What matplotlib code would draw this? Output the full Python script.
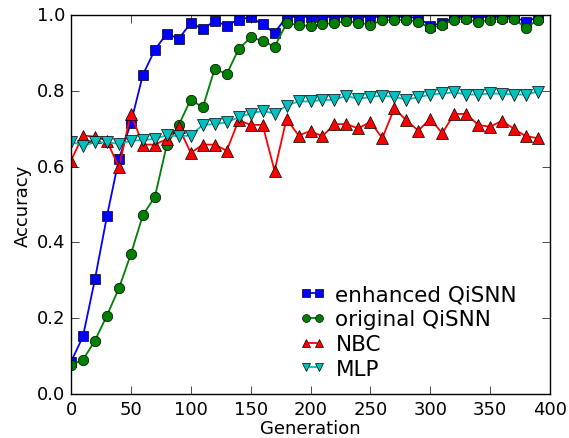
import matplotlib
matplotlib.use("Agg")
import matplotlib.pyplot as plt
import numpy as np

plt.style.use("classic")
plt.rcParams['font.family'] = ['DejaVu Sans']

generations = list(range(0, 400, 10))

enhanced_qisnn = [0.085, 0.152, 0.303, 0.469, 0.620, 0.715, 0.842, 0.908, 0.951, 0.937,
                  0.979, 0.963, 0.984, 0.972, 0.988, 0.994, 0.975, 0.953, 0.995, 0.995,
                  0.995, 0.995, 0.995, 0.995, 0.995, 0.995, 0.995, 0.995, 0.995, 0.992,
                  0.972, 0.978, 0.995, 0.995, 0.995, 0.995, 0.995, 0.995, 0.982, 0.995]

original_qisnn = [0.077, 0.090, 0.141, 0.207, 0.279, 0.369, 0.472, 0.520, 0.657, 0.710,
                  0.777, 0.756, 0.858, 0.844, 0.910, 0.941, 0.932, 0.916, 0.978, 0.974,
                  0.970, 0.975, 0.980, 0.983, 0.980, 0.974, 0.986, 0.986, 0.988, 0.982,
                  0.965, 0.974, 0.988, 0.990, 0.981, 0.988, 0.990, 0.990, 0.965, 0.988]

nbc = [0.616, 0.682, 0.679, 0.668, 0.598, 0.740, 0.658, 0.658, 0.673, 0.704,
       0.636, 0.658, 0.658, 0.642, 0.722, 0.710, 0.710, 0.589, 0.726, 0.682,
       0.694, 0.680, 0.712, 0.712, 0.701, 0.718, 0.675, 0.754, 0.722, 0.695,
       0.726, 0.688, 0.739, 0.739, 0.710, 0.705, 0.721, 0.699, 0.680, 0.675]

mlp = [0.666, 0.655, 0.664, 0.664, 0.660, 0.668, 0.670, 0.673, 0.683, 0.680,
       0.682, 0.710, 0.712, 0.717, 0.730, 0.740, 0.747, 0.740, 0.761, 0.772,
       0.772, 0.776, 0.776, 0.787, 0.778, 0.784, 0.787, 0.784, 0.777, 0.783,
       0.790, 0.793, 0.796, 0.790, 0.790, 0.793, 0.792, 0.790, 0.790, 0.798]

labels = ["enhanced QiSNN", "original QiSNN", "NBC", "MLP"]
x_ticks = [0, 50, 100, 150, 200, 250, 300, 350, 400]
y_ticks = [0.0, 0.2, 0.4, 0.6, 0.8, 1.0]

fig = plt.figure(figsize=(5.69, 4.39), dpi=100, facecolor="white")
ax = fig.add_axes([0.1248, 0.1002, 0.8418, 0.8634])
ax.set_facecolor("white")

ms = 7.5
lw = 1.3
ax.plot(generations, enhanced_qisnn, "s-", color="b", mec="k", ms=ms, lw=lw, label=labels[0])
ax.plot(generations, original_qisnn, "o-", color="g", mec="k", ms=ms, lw=lw, label=labels[1])
ax.plot(generations, nbc, "^-", color="r", mec="k", ms=ms + 0.5, lw=lw, label=labels[2])
ax.plot(generations, mlp, "v-", color="c", mec="k", ms=ms + 0.5, lw=lw, label=labels[3])

ax.set_xlim(0, 400)
ax.set_ylim(0, 1.0)
ax.set_xticks(x_ticks)
ax.set_yticks(y_ticks)
ax.set_yticklabels([f"{v:.1f}" for v in y_ticks])
ax.tick_params(labelsize=13, direction="in", length=6, pad=4)
ax.set_xlabel("Generation", fontsize=13, labelpad=1)
ax.set_ylabel("Accuracy", fontsize=13, labelpad=4)

ax.legend(loc="lower left", bbox_to_anchor=(0.478, 0.04), frameon=False, numpoints=2,
          fontsize=15.5, borderpad=0, borderaxespad=0, labelspacing=0.22,
          handlelength=1.2, handletextpad=0.45, markerscale=0.75)

fig.savefig("out.png", dpi=100, facecolor="white")
